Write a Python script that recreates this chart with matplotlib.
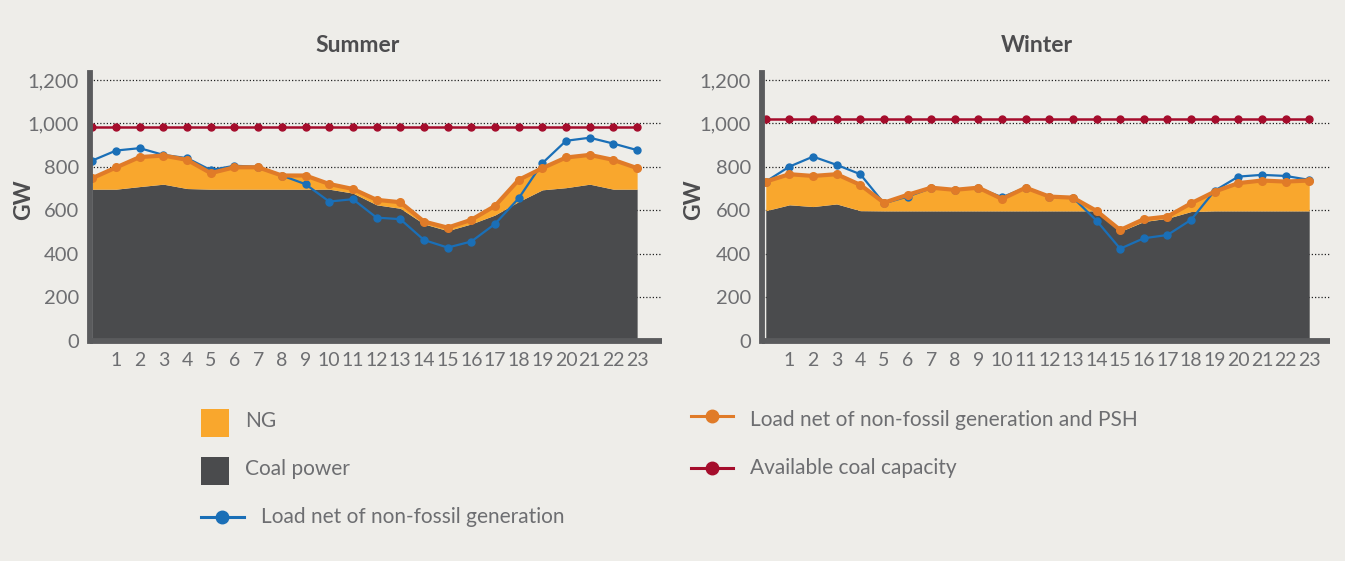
import numpy as np
import matplotlib
matplotlib.use('Agg')
import matplotlib.pyplot as plt
from matplotlib.patches import Rectangle
from matplotlib.lines import Line2D

plt.rcParams['font.family'] = ['Lato', 'DejaVu Sans']

# hourly data (GW)
hours = list(range(24))
tick_hours = list(range(1, 24))

summer_coal = [697, 697, 709, 720, 700, 697, 697, 697, 697, 697, 697, 679,
               625, 609, 537, 506, 537, 578, 640, 694, 704, 720, 697, 697]
summer_ng = [51, 100, 136, 132, 132, 74, 101, 101, 63, 63, 24, 19,
             23, 28, 11, 14, 19, 42, 100, 100, 139, 135, 135, 97]
summer_net_psh = [748, 797, 845, 852, 832, 771, 798, 798, 760, 760, 721, 698,
                  648, 637, 548, 520, 556, 620, 740, 794, 843, 855, 832, 794]
summer_net = [829, 875, 886, 855, 840, 785, 805, 800, 760, 720, 640, 651,
              566, 559, 463, 428, 456, 537, 655, 817, 920, 934, 907, 877]
summer_cap = [985, 985, 985, 985, 985, 985, 985, 985, 985, 985, 985, 985,
              985, 985, 985, 985, 985, 985, 985, 985, 985, 985, 985, 985]

winter_coal = [598, 625, 617, 629, 598, 597, 597, 597, 597, 597, 597, 597,
               597, 597, 597, 502, 548, 563, 594, 597, 597, 597, 597, 597]
winter_ng = [134, 141, 141, 137, 119, 38, 74, 107, 97, 107, 55, 107,
             66, 61, 0, 7, 11, 8, 38, 89, 128, 140, 135, 140]
winter_net_psh = [732, 766, 758, 766, 717, 635, 671, 704, 694, 704, 652, 704,
                  663, 658, 597, 509, 559, 571, 632, 686, 725, 737, 732, 737]
winter_net = [732, 801, 847, 809, 766, 632, 663, 702, 695, 702, 660, 704,
              663, 658, 552, 423, 471, 486, 556, 690, 755, 763, 758, 740]
winter_cap = [1020, 1020, 1020, 1020, 1020, 1020, 1020, 1020, 1020, 1020, 1020, 1020,
              1020, 1020, 1020, 1020, 1020, 1020, 1020, 1020, 1020, 1020, 1020, 1020]

yticks = [0, 200, 400, 600, 800, 1000, 1200]
ytick_labels = ['0', '200', '400', '600', '800', '1,000', '1,200']

BG = '#eeede9'
COAL = '#4a4b4d'
NG = '#f9a72d'
ORANGE = '#e07b28'
BLUE = '#1a6fb7'
RED = '#a50d2c'
SPINE = '#5a5b5d'
GREY = '#6d6e71'
DARK = '#4d4d4f'

W, H = 1345, 561
fig = plt.figure(figsize=(W / 100, H / 100), dpi=100, facecolor=BG)


def panel(rect, xlim, coal, ng, net_psh, net, cap):
    ax = fig.add_axes(rect)
    ax.set_facecolor('none')
    x = np.array(hours)
    coal = np.array(coal)
    top = coal + np.array(ng)
    ax.fill_between(x, 0, coal, color=COAL, lw=0, zorder=2)
    ax.fill_between(x, coal, top, color=NG, lw=0, zorder=2)
    ax.plot(x, net, '-o', color=BLUE, lw=1.6, ms=5, zorder=3)
    ax.plot(x, net_psh, '-o', color=ORANGE, lw=3.0, ms=5.5, zorder=4)
    ax.plot(x, cap, '-o', color=RED, lw=1.8, ms=5, zorder=5)

    ax.set_xlim(xlim)
    ax.set_ylim(-2.3, 1233.6)
    ax.set_yticks(yticks)
    ax.set_yticklabels(ytick_labels)
    ax.set_xticks(tick_hours)
    ax.set_xticklabels([str(h) for h in tick_hours])
    ax.tick_params(length=0, labelcolor=GREY)
    ax.tick_params(axis='y', pad=8, labelsize=14.5)
    ax.tick_params(axis='x', pad=8, labelsize=14)
    ax.yaxis.grid(True, linestyle=(0, (1, 1.6)), color='#222222', lw=0.9)
    ax.set_axisbelow(True)
    for s in ['top', 'right']:
        ax.spines[s].set_visible(False)
    for s in ['left', 'bottom']:
        ax.spines[s].set_color(SPINE)
        ax.spines[s].set_linewidth(4.2)
        ax.spines[s].set_zorder(6)
    ax.spines['bottom'].set_capstyle('butt')
    return ax


ax1 = panel([90.2 / W, 1 - 341 / H, 571.8 / W, 268.3 / H], (-0.09, 24.05),
            summer_coal, summer_ng, summer_net_psh, summer_net, summer_cap)
ax2 = panel([762 / W, 1 - 341 / H, 568 / W, 268.3 / H], (-0.16, 23.88),
            winter_coal, winter_ng, winter_net_psh, winter_net, winter_cap)

tkw = dict(ha='center', va='center', fontsize=16.5, fontweight='bold', color=DARK)
fig.text(357.5 / W, 1 - 46 / H, 'Summer', **tkw)
fig.text(1037 / W, 1 - 46 / H, 'Winter', **tkw)
fig.text(24 / W, 1 - 200 / H, 'GW', rotation=90, **tkw)
fig.text(694 / W, 1 - 200 / H, 'GW', rotation=90, **tkw)

# legend drawn in pixel space
lg = fig.add_axes([0, 0, 1, 1])
lg.set_xlim(0, W)
lg.set_ylim(H, 0)
lg.axis('off')
lg.set_facecolor('none')

lg.add_patch(Rectangle((201, 409), 28, 28, color=NG, lw=0))
lg.add_patch(Rectangle((201, 457), 28, 28, color=COAL, lw=0))
lg.add_line(Line2D([201, 244], [517, 517], color=BLUE, lw=2.2))
lg.plot([222], [517], 'o', color=BLUE, ms=9)
lg.add_line(Line2D([691, 733], [416, 416], color=ORANGE, lw=2.2))
lg.plot([712], [416], 'o', color=ORANGE, ms=9)
lg.add_line(Line2D([691, 733], [468, 468], color=RED, lw=2.2))
lg.plot([712], [468], 'o', color=RED, ms=9)

lkw = dict(fontsize=15, color=GREY, va='center', ha='left')
lg.text(245, 421, 'NG', **lkw)
lg.text(245, 469, 'Coal power', **lkw)
lg.text(261, 517, 'Load net of non-fossil generation', **lkw)
lg.text(750, 420, 'Load net of non-fossil generation and PSH', **lkw)
lg.text(750, 468, 'Available coal capacity', **lkw)

fig.savefig('out.png', dpi=100, facecolor=BG)
